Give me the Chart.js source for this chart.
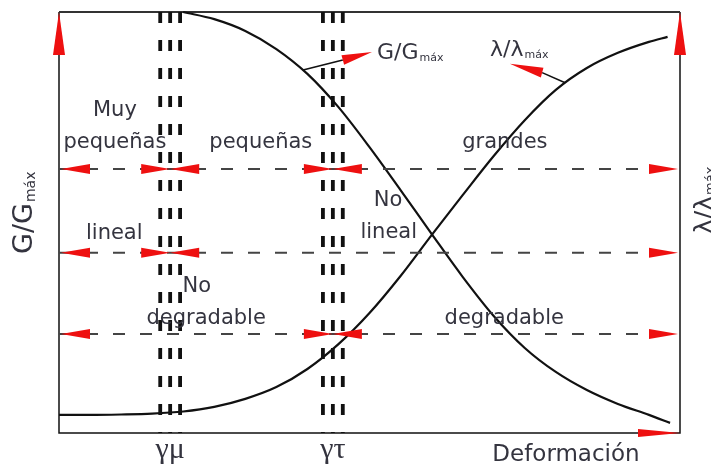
<!DOCTYPE html>
<html>
<head>
<meta charset="utf-8">
<script src="https://cdn.jsdelivr.net/npm/chart.js@4.4.1/dist/chart.umd.min.js"></script>
<style>
  html, body { margin: 0; padding: 0; background: #fff; }
  #wrap { width: 711px; height: 469px; }
</style>
</head>
<body>
<div id="wrap"><canvas id="Curvas" width="711" height="469"></canvas></div>
<script>
// G/Gmax (degradacion del modulo) y lambda/lambda_max (amortiguamiento) vs deformacion
const gX = [20, 25, 30, 35, 40, 45, 50, 55, 60, 65, 70, 75, 80, 85, 90, 95, 98.4];
const gY = [1.0, 0.983, 0.955, 0.912, 0.853, 0.774, 0.679, 0.577, 0.473, 0.371, 0.278, 0.202, 0.145, 0.102, 0.069, 0.043, 0.024];

const lX = [0, 5, 10, 15, 20, 25, 30, 35, 40, 45, 50, 55, 60, 65, 70, 75, 80, 85, 90, 95, 98];
const lY = [0.043, 0.043, 0.044, 0.046, 0.051, 0.062, 0.081, 0.109, 0.152, 0.211, 0.285, 0.373, 0.470, 0.565, 0.658, 0.743, 0.815, 0.867, 0.903, 0.929, 0.941];

// umbrales de deformacion (triple linea discontinua)
const gammaMuX = [16.3, 17.9, 19.5];
const gammaTauX = [42.5, 44.1, 45.7];
const tickValues = [17.9, 44.1];
const tickLabels = ['γμ', 'γτ'];

// niveles de las bandas horizontales y donde se cortan
const bandLevels = [0.627, 0.428, 0.235];
const bandStops = [[0, 17.9, 44.1, 100], [0, 17.9, 100], [0, 44.1, 100]];

// textos dentro del grafico [texto, x, y]
const zoneLabels = [
  ['Muy', 9.0, 0.765],
  ['pequeñas', 9.0, 0.689],
  ['pequeñas', 32.5, 0.689],
  ['grandes', 71.8, 0.691],
  ['No', 53.0, 0.553],
  ['lineal', 53.1, 0.475],
  ['lineal', 8.9, 0.473],
  ['No', 22.2, 0.349],
  ['degradable', 23.7, 0.273],
  ['degradable', 71.7, 0.273]
];

// flechas que senalan cada curva: inicio, quiebre, punta
const pointers = [
  { from: [39.3, 0.862], mid: [45.7, 0.886], tip: [50.4, 0.905], text: 'G/G', sub: 'máx', at: [51.2, 0.903] },
  { from: [81.5, 0.832], mid: [77.8, 0.856], tip: [72.6, 0.877], text: 'λ/λ', sub: 'máx', at: [69.4, 0.910] }
];

const RED = '#ee1010';
const TXT = '#34343f';

function head(ctx, tx, ty, bx, by, hw) {
  const dx = tx - bx, dy = ty - by;
  const len = Math.hypot(dx, dy);
  const nx = -dy / len * hw, ny = dx / len * hw;
  ctx.beginPath();
  ctx.moveTo(tx, ty);
  ctx.lineTo(bx + nx, by + ny);
  ctx.lineTo(bx - nx, by - ny);
  ctx.closePath();
  ctx.fill();
}

function ratioText(ctx, main, sub, x, y, size) {
  ctx.font = size + 'px "DejaVu Sans"';
  ctx.textAlign = 'left';
  ctx.textBaseline = 'middle';
  ctx.fillText(main, x, y);
  const w = ctx.measureText(main).width;
  ctx.font = Math.round(size * 0.52) + 'px "DejaVu Sans"';
  ctx.fillText(sub, x + w + 1, y + size * 0.22);
}

const decor = {
  id: 'decor',
  beforeDatasetsDraw(chart) {
    const ctx = chart.ctx, a = chart.chartArea;
    ctx.save();
    ctx.strokeStyle = '#111';
    ctx.lineWidth = 1.5;
    ctx.beginPath();
    ctx.moveTo(a.left, a.top);
    ctx.lineTo(a.left, a.bottom);
    ctx.lineTo(a.right, a.bottom);
    ctx.lineTo(a.right, a.top);
    ctx.stroke();
    ctx.strokeStyle = '#333';
    ctx.lineWidth = 2.2;
    ctx.beginPath();
    ctx.moveTo(a.left, a.top);
    ctx.lineTo(a.right, a.top);
    ctx.stroke();
    ctx.restore();
  },
  afterDatasetsDraw(chart) {
    const ctx = chart.ctx, a = chart.chartArea;
    const xs = chart.scales.x, ys = chart.scales.y;
    const px = v => xs.getPixelForValue(v), py = v => ys.getPixelForValue(v);
    ctx.save();
    ctx.fillStyle = RED;

    // flechas dobles de cada banda
    const L = 29, hw = 5;
    bandLevels.forEach((lvl, i) => {
      const y = py(lvl);
      const stops = bandStops[i];
      for (let k = 0; k < stops.length - 1; k++) {
        const x0 = px(stops[k]) + (k === 0 ? 2 : 0);
        const x1 = px(stops[k + 1]) - (k === stops.length - 2 ? 2 : 0);
        head(ctx, x0, y, x0 + L, y, hw);
        head(ctx, x1, y, x1 - L, y, hw);
      }
    });

    // puntas de los ejes
    head(ctx, a.left, a.top, a.left, a.top + 43, 6);
    head(ctx, a.right, a.top, a.right, a.top + 43, 6);
    head(ctx, a.right, a.bottom, a.right - 42, a.bottom, 4);

    // indicadores de curva
    pointers.forEach(p => {
      ctx.strokeStyle = '#111';
      ctx.lineWidth = 1.6;
      ctx.beginPath();
      ctx.moveTo(px(p.from[0]), py(p.from[1]));
      ctx.lineTo(px(p.mid[0]), py(p.mid[1]));
      ctx.stroke();
      ctx.fillStyle = RED;
      head(ctx, px(p.tip[0]), py(p.tip[1]), px(p.mid[0]), py(p.mid[1]), 5);
      ctx.fillStyle = TXT;
      ratioText(ctx, p.text, p.sub, px(p.at[0]), py(p.at[1]), 22);
    });

    // textos de zonas
    ctx.fillStyle = TXT;
    ctx.font = '21px "DejaVu Sans"';
    ctx.textAlign = 'center';
    ctx.textBaseline = 'middle';
    zoneLabels.forEach(t => ctx.fillText(t[0], px(t[1]), py(t[2])));

    // marcas del eje x
    ctx.font = '30px "Liberation Serif"';
    tickValues.forEach((v, i) => ctx.fillText(tickLabels[i], px(v), a.bottom + 17));
    ctx.font = '23px "DejaVu Sans"';
    ctx.fillText('Deformación', 566, a.bottom + 22);

    // titulos verticales
    ctx.save();
    ctx.translate(25, 254);
    ctx.rotate(-Math.PI / 2);
    ratioText(ctx, 'G/G', 'máx', 0, 0, 27);
    ctx.restore();
    ctx.save();
    ctx.translate(705, 234);
    ctx.rotate(-Math.PI / 2);
    ratioText(ctx, 'λ/λ', 'máx', 0, 0, 25);
    ctx.restore();

    ctx.restore();
  }
};

function pts(xv, yv) { return xv.map((x, i) => ({ x: x, y: yv[i] })); }

const datasets = [];
bandLevels.forEach(lvl => datasets.push({
  data: [{ x: 0, y: lvl }, { x: 100, y: lvl }],
  borderColor: '#444', borderWidth: 2, borderDash: [12, 15]
}));
gammaMuX.concat(gammaTauX).forEach(x => datasets.push({
  data: [{ x: x, y: 1 }, { x: x, y: 0 }],
  borderColor: '#111', borderWidth: 3.8, borderDash: [11, 17]
}));
datasets.push({ data: pts(gX, gY), borderColor: '#111', borderWidth: 2.2, cubicInterpolationMode: 'monotone' });
datasets.push({ data: pts(lX, lY), borderColor: '#111', borderWidth: 2.2, cubicInterpolationMode: 'monotone' });
datasets.forEach(d => { d.showLine = true; d.pointRadius = 0; d.fill = false; d.clip = false; });

new Chart(document.getElementById('Curvas'), {
  type: 'scatter',
  data: { datasets: datasets },
  options: {
    responsive: false,
    animation: false,
    layout: { padding: { left: 59, right: 31, top: 12, bottom: 36 } },
    scales: {
      x: { type: 'linear', min: 0, max: 100, display: false },
      y: { type: 'linear', min: 0, max: 1, display: false }
    },
    plugins: { legend: { display: false }, tooltip: { enabled: false } }
  },
  plugins: [decor]
});
</script>
</body>
</html>
